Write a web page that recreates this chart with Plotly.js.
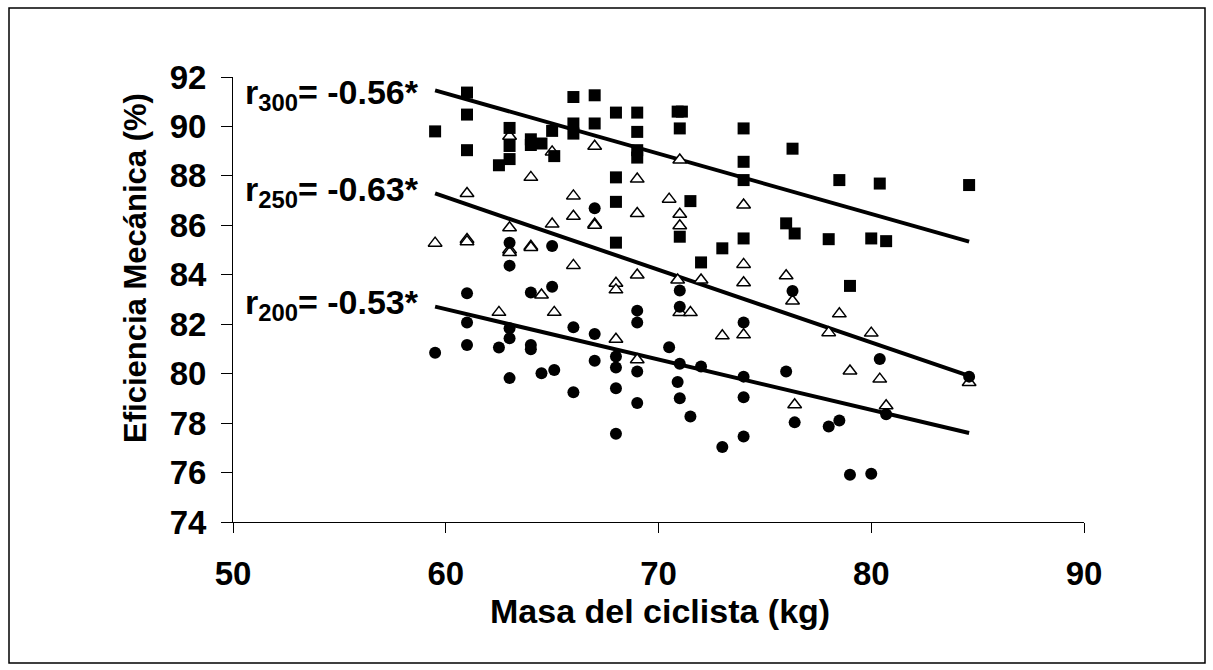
<!DOCTYPE html>
<html>
<head>
<meta charset="utf-8">
<script src="https://cdn.plot.ly/plotly-3.0.1.min.js"></script>
<style>
html,body{margin:0;padding:0;background:#fff;}
#chart{width:1213px;height:670px;}
</style>
</head>
<body>
<div id="chart"></div>
<script>
// 300 W (filled squares)
const x300 = [59.5,61.0,61.0,61.0,62.5,63.0,63.0,63.0,64.0,64.0,64.5,65.0,65.1,66.0,66.0,66.0,67.0,67.0,68.0,68.0,68.0,68.0,69.0,69.0,69.0,69.0,70.9,71.1,71.0,71.5,71.0,72.0,73.0,74.0,74.0,74.0,74.0,76.0,76.4,76.3,78.0,78.5,79.0,80.0,80.4,80.7,84.6];
const y300 = [89.8,91.37,90.48,89.04,88.43,89.94,89.21,88.68,89.48,89.25,89.31,89.82,88.8,91.19,90.12,89.71,91.26,90.12,90.56,87.94,86.95,85.3,90.56,89.78,89.04,88.74,90.6,90.6,89.92,86.98,85.54,84.5,85.07,89.92,88.57,87.83,85.47,86.08,85.67,89.1,85.44,87.83,83.55,85.47,87.69,85.36,87.63];
// 250 W (open triangles)
const x250 = [59.5,61.0,61.0,61.0,62.5,63.0,63.0,63.0,63.0,64.0,64.0,64.0,64.5,65.0,65.0,65.1,66.0,66.0,66.0,67.0,67.0,67.0,68.0,68.0,68.0,69.0,69.0,69.0,69.0,70.5,70.9,71.0,71.0,71.0,71.0,71.5,72.0,73.0,74.0,74.0,74.0,74.0,76.0,76.3,76.4,78.0,78.5,79.0,80.0,80.4,80.7,84.6];
const y250 = [85.28,87.29,85.43,85.34,82.48,89.6,85.9,85.0,84.9,87.94,85.15,85.1,83.18,88.97,86.05,82.48,87.19,86.37,84.38,89.2,86.05,86.0,83.66,83.39,81.39,87.87,86.48,83.99,80.56,87.06,83.79,88.64,86.45,85.98,82.47,82.47,83.79,81.53,86.82,84.42,83.68,81.57,83.96,82.94,78.74,81.66,82.42,80.11,81.64,79.78,78.70,79.64];
// 200 W (filled circles)
const x200 = [59.5,61.0,61.0,61.0,62.5,63.0,63.0,63.0,63.0,63.0,64.0,64.0,64.0,64.5,65.0,65.0,65.1,66.0,66.0,67.0,67.0,67.0,68.0,68.0,68.0,68.0,69.0,69.0,69.0,69.0,70.5,71.0,71.0,71.0,70.9,71.0,71.5,72.0,73.0,74.0,74.0,74.0,74.0,76.0,76.3,76.4,78.0,78.5,79.0,80.0,80.4,80.7,84.6];
const y200 = [80.85,83.25,82.07,81.16,81.06,85.3,84.37,81.84,81.43,79.82,83.28,81.16,80.99,80.02,85.16,83.52,80.15,81.88,79.25,86.69,81.6,80.52,80.69,80.25,79.41,77.57,82.55,82.07,80.09,78.81,81.07,83.36,82.71,80.4,79.66,79.01,78.27,80.29,77.03,82.07,79.88,79.05,77.46,80.09,83.34,78.03,77.86,78.11,75.91,75.95,80.59,78.36,79.88];
// regression lines (end points)
const fitX = [59.5, 84.6];
const fit300 = [91.46, 85.34];
const fit250 = [87.29, 79.91];
const fit200 = [82.71, 77.60];
// labels
const rLabels = ['r<sub>300</sub>= -0.56*','r<sub>250</sub>= -0.63*','r<sub>200</sub>= -0.53*'];
const rLabelY = [91.3, 87.38, 82.8];
const xTicks = [50,60,70,80,90];
const yTicks = [74,76,78,80,82,84,86,88,90,92];
const xTitle = 'Masa del ciclista (kg)';
const yTitle = 'Eficiencia Mecánica (%)';

const FONT = 'Liberation Sans, Arial, sans-serif';

const lineStyle = {color:'#000', width:4};
const traces = [
  {x:fitX, y:fit300, mode:'lines', line:lineStyle, hoverinfo:'skip'},
  {x:fitX, y:fit250, mode:'lines', line:lineStyle, hoverinfo:'skip'},
  {x:fitX, y:fit200, mode:'lines', line:lineStyle, hoverinfo:'skip'},
  {x:x250, y:y250, mode:'markers', marker:{symbol:'triangle-up', size:12, color:'#fff', line:{color:'#000', width:1.5}}},
  {x:x200, y:y200, mode:'markers', marker:{symbol:'circle', size:12, color:'#000', line:{width:0}}},
  {x:x300, y:y300, mode:'markers', marker:{symbol:'square', size:12, color:'#000', line:{width:0}}}
];

const annotations = rLabels.map((t,i)=>({
  text:t, x:50.45, y:rLabelY[i], xref:'x', yref:'y', xanchor:'left', yanchor:'middle',
  showarrow:false, font:{family:FONT, size:34, color:'#000', weight:'bold'}
}));
annotations.push({
  text:yTitle, textangle:-90, xref:'paper', yref:'paper', x:-0.114, y:0.571,
  xanchor:'center', yanchor:'middle', showarrow:false,
  font:{family:FONT, size:31, color:'#000', weight:'bold'}
});
annotations.push({
  text:xTitle, xref:'paper', yref:'paper', x:0.502, y:-0.2,
  xanchor:'center', yanchor:'middle', showarrow:false,
  font:{family:FONT, size:34, color:'#000', weight:'bold'}
});

const layout = {
  width:1213, height:670,
  margin:{l:233, r:129, t:77, b:148, pad:0},
  paper_bgcolor:'#fff', plot_bgcolor:'#fff',
  showlegend:false,
  xaxis:{
    range:[50,90], tickvals:xTicks, ticktext:xTicks.map(String),
    showgrid:false, zeroline:false, showline:true, linecolor:'#000', linewidth:1,
    ticks:'outside', ticklen:10, tickcolor:'#000', tickwidth:1,
    ticklabelstandoff:12,
    tickfont:{family:FONT, size:33, color:'#000', weight:'bold'}
  },
  yaxis:{
    range:[74,92], tickvals:yTicks, ticktext:yTicks.map(String),
    showgrid:false, zeroline:false, showline:true, linecolor:'#000', linewidth:1,
    ticks:'outside', ticklen:11, tickcolor:'#000', tickwidth:1,
    ticklabelstandoff:8,
    tickfont:{family:FONT, size:33, color:'#000', weight:'bold'}
  },
  annotations:annotations,
  shapes:[{
    type:'rect', xref:'paper', yref:'paper',
    x0:(9-233)/851, x1:(1205-233)/851, y0:(522-663)/445, y1:(522-8)/445,
    line:{color:'#000', width:1.5}, fillcolor:'rgba(0,0,0,0)', layer:'below'
  }]
};

Plotly.newPlot('chart', traces, layout, {staticPlot:true, displayModeBar:false});
</script>
</body>
</html>
